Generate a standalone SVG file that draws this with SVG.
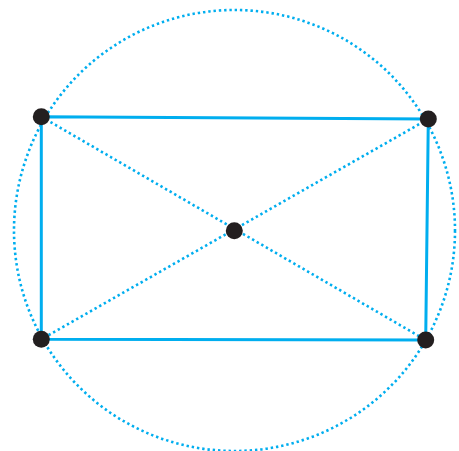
<svg xmlns="http://www.w3.org/2000/svg" width="459" height="451" viewBox="0 0 459 451">
<style>
.dot{fill:#231f20}
.solid{stroke:#00aeef;stroke-width:3;fill:none}
.dotted{stroke:#00aeef;stroke-width:2.6;fill:none;stroke-dasharray:2.4 2.9}
</style>
<rect width="459" height="451" fill="#fff"/>
<g id="connectors">
<circle class="dotted" cx="234.5" cy="230.5" r="220.5"/>
<line class="dotted" x1="41.3" y1="116.7" x2="425.7" y2="340"/>
<line class="dotted" x1="428.3" y1="119" x2="41.3" y2="339.3"/>
<polygon class="solid" points="41.3,116.7 428.3,119 425.7,340 41.3,339.3"/>
</g>
<g id="A"><circle class="dot" cx="41.3" cy="116.7" r="8.5"/></g>
<g id="B"><circle class="dot" cx="428.3" cy="119" r="8.5"/></g>
<g id="C"><circle class="dot" cx="425.7" cy="340" r="8.5"/></g>
<g id="D"><circle class="dot" cx="41.3" cy="339.3" r="8.5"/></g>
<g id="O"><circle class="dot" cx="234.3" cy="230.7" r="8.5"/></g>
</svg>
